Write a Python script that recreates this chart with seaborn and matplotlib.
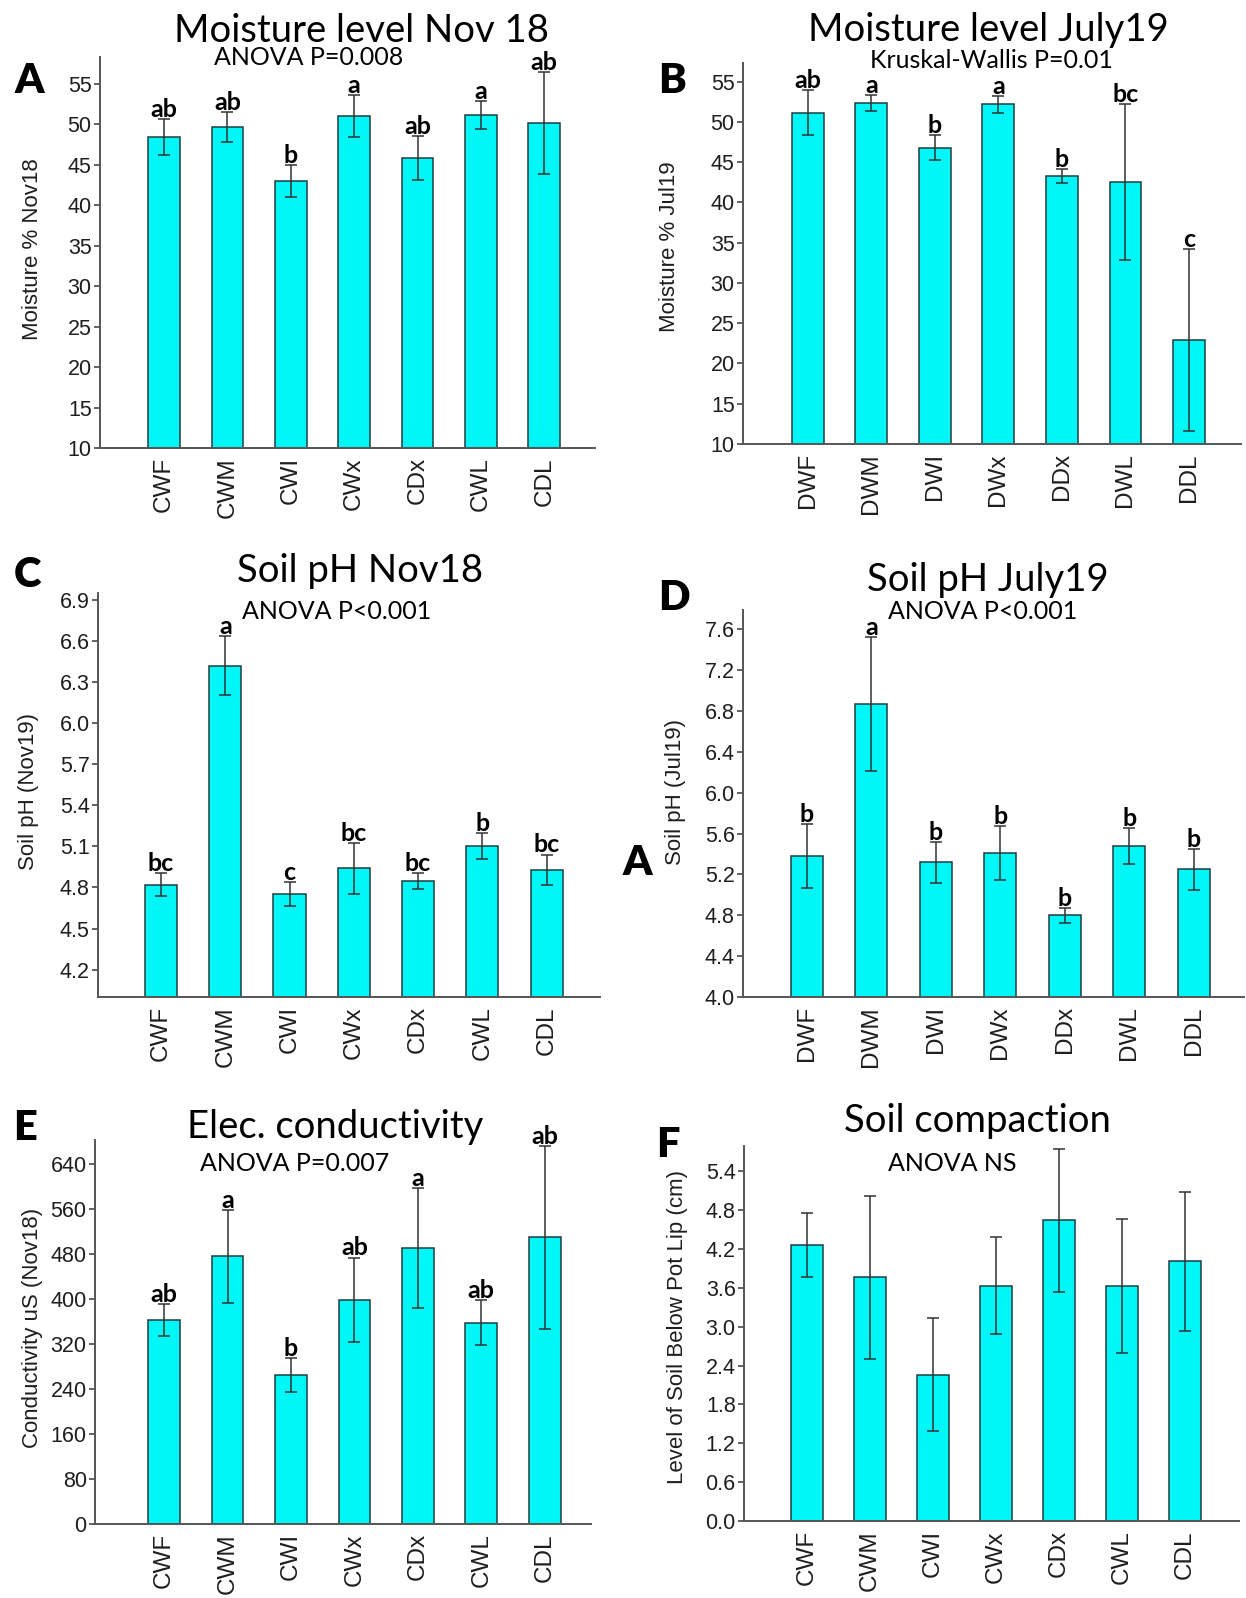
import numpy as np
import pandas as pd
import matplotlib
matplotlib.use("Agg")
import matplotlib.pyplot as plt
import seaborn as sns
from matplotlib.ticker import FormatStrFormatter, MultipleLocator

# ---------------- data ----------------
groups_C = ["CWF", "CWM", "CWI", "CWx", "CDx", "CWL", "CDL"]
groups_D = ["DWF", "DWM", "DWI", "DWx", "DDx", "DWL", "DDL"]

moist_nov18 = [48.4, 49.6, 43.0, 51.0, 45.8, 51.1, 50.1]
moist_nov18_err = [2.2, 1.85, 2.0, 2.55, 2.75, 1.75, 6.3]
moist_nov18_sig = ["ab", "ab", "b", "a", "ab", "a", "ab"]

moist_jul19 = [51.1, 52.3, 46.8, 52.2, 43.3, 42.5, 22.9]
moist_jul19_err = [2.8, 1.0, 1.55, 1.05, 0.85, 9.7, 11.3]
moist_jul19_sig = ["ab", "a", "b", "a", "b", "bc", "c"]

ph_nov18 = [4.82, 6.42, 4.75, 4.94, 4.85, 5.10, 4.93]
ph_nov18_err = [0.085, 0.215, 0.087, 0.185, 0.058, 0.094, 0.11]
ph_nov18_sig = ["bc", "a", "c", "bc", "bc", "b", "bc"]

ph_jul19 = [5.38, 6.87, 5.32, 5.41, 4.80, 5.48, 5.25]
ph_jul19_err = [0.31, 0.655, 0.20, 0.265, 0.073, 0.175, 0.20]
ph_jul19_sig = ["b", "a", "b", "b", "b", "b", "b"]

cond_nov18 = [363, 476, 265, 399, 491, 358, 510]
cond_nov18_err = [28, 83, 30, 75, 107, 40, 163]
cond_nov18_sig = ["ab", "a", "b", "ab", "a", "ab", "ab"]

compaction = [4.26, 3.76, 2.26, 3.63, 4.64, 3.63, 4.01]
compaction_err = [0.50, 1.26, 0.87, 0.75, 1.10, 1.03, 1.07]
compaction_sig = None

# ---------------- style ----------------
sns.set_style("ticks")
plt.rcParams["font.family"] = ["Liberation Sans", "DejaVu Sans"]
TITLE_FONT = ["Lato", "DejaVu Sans"]

W, H = 1246, 1598
fig = plt.figure(figsize=(W / 100, H / 100), dpi=100)
fig.patch.set_facecolor("white")

CYAN = "#00F7F7"
EDGE = "#1f3d3d"
AXC = "#555555"
TXT = "#1e1e1e"


def ftext(x, y, s, **kw):
    fig.text(x / W, 1 - y / H, s, **kw)


def panel(box, cats, vals, errs, sig, xlim, ylim, step, fmt, ylabel, ylab_xy,
          title, title_xy, sub, sub_xy, letter, letter_xy):
    l, r, t, b = box
    ax = fig.add_axes([l / W, 1 - b / H, (r - l) / W, (b - t) / H])
    df = pd.DataFrame({"group": cats, "value": vals})
    sns.barplot(data=df, x="group", y="value", order=cats, color=CYAN,
                saturation=1, edgecolor=EDGE, linewidth=1.1, width=0.5,
                errorbar=None, ax=ax, zorder=2)
    xs = np.arange(len(cats))
    ax.errorbar(xs, vals, yerr=errs, fmt="none", ecolor="#333333",
                elinewidth=1.1, capsize=4.5, capthick=1.1, zorder=3)
    if sig is not None:
        for xi, v, e, s in zip(xs, vals, errs, sig):
            ax.annotate(s, (xi, v + e), xytext=(0, 1.5), textcoords="offset points",
                        ha="center", va="baseline", fontsize=18,
                        fontweight="bold", family=TITLE_FONT, color="black",
                        annotation_clip=False)
    ax.set_xlim(*xlim)
    ax.set_ylim(*ylim)
    ax.yaxis.set_major_locator(MultipleLocator(step))
    ax.yaxis.set_major_formatter(FormatStrFormatter(fmt))
    sns.despine(ax=ax)
    for sp in ("left", "bottom"):
        ax.spines[sp].set_color(AXC)
        ax.spines[sp].set_linewidth(1.4)
    ax.tick_params(axis="y", length=4, width=1.3, color=AXC, pad=2,
                   labelsize=15.5, labelcolor=TXT)
    ax.tick_params(axis="x", length=0, pad=6.5, labelsize=17.5,
                   labelcolor=TXT, labelrotation=90)
    ax.set_xlabel("")
    ax.set_ylabel(ylabel, fontsize=16, color=TXT)
    ax.yaxis.label.set_verticalalignment("center")
    ax.yaxis.set_label_coords((ylab_xy[0] - l) / (r - l), (b - ylab_xy[1]) / (b - t))
    ax.set_facecolor("white")
    ftext(title_xy[0], title_xy[1], title, ha="center", va="baseline",
          fontsize=27.5, family=TITLE_FONT, color="black")
    ftext(sub_xy[0], sub_xy[1], sub, ha="center", va="baseline",
          fontsize=18, family=TITLE_FONT, color="black")
    ftext(letter_xy[0], letter_xy[1], letter, ha="center", va="baseline",
          fontsize=30, fontweight="heavy", family=TITLE_FONT, color="black")
    return ax


panel((100, 595, 57, 448), groups_C, moist_nov18, moist_nov18_err, moist_nov18_sig,
      (-1.01, 6.80), (10, 58.3), 5, "%d", "Moisture % Nov18", (33, 249),
      "Moisture level Nov 18", (362, 42), "ANOVA P=0.008", (309, 65), "A", (29, 93))

panel((743, 1241, 63, 444), groups_D, moist_jul19, moist_jul19_err, moist_jul19_sig,
      (-1.02, 6.82), (10, 57.3), 5, "%d", "Moisture % Jul19", (670, 247),
      "Moisture level July19", (988, 41), "Kruskal-Wallis P=0.01", (991, 68), "B", (672, 93))

panel((98, 600, 593, 997), groups_C, ph_nov18, ph_nov18_err, ph_nov18_sig,
      (-0.98, 6.83), (4.0, 6.95), 0.3, "%.1f", "Soil pH (Nov19)", (29, 792),
      "Soil pH Nov18", (360, 582), "ANOVA P<0.001", (337, 619), "C", (27, 587))

panel((743, 1244, 610, 997), groups_D, ph_jul19, ph_jul19_err, ph_jul19_sig,
      (-0.99, 6.78), (4.0, 7.79), 0.4, "%.1f", "Soil pH (Jul19)", (676, 792),
      "Soil pH July19", (988, 591), "ANOVA P<0.001", (983, 619), "D", (674, 610))

panel((95, 591, 1140, 1524), groups_C, cond_nov18, cond_nov18_err, cond_nov18_sig,
      (-1.09, 6.73), (0, 683), 80, "%d", "Conductivity uS (Nov18)", (33, 1328),
      "Elec. conductivity", (335, 1138), "ANOVA P=0.007", (295, 1171), "E", (25, 1140))

panel((744, 1239, 1146, 1521), groups_C, compaction, compaction_err, compaction_sig,
      (-1.0, 6.86), (0, 5.79), 0.6, "%.1f", "Level of Soil Below Pot Lip (cm)", (678, 1327),
      "Soil compaction", (977, 1132), "ANOVA NS", (952, 1171), "F", (668, 1157))

# stray label left of panel D
ftext(637, 875, "A", ha="center", va="baseline", fontsize=30,
      fontweight="heavy", family=TITLE_FONT, color="black")

fig.savefig("out.png", dpi=100, facecolor="white")
